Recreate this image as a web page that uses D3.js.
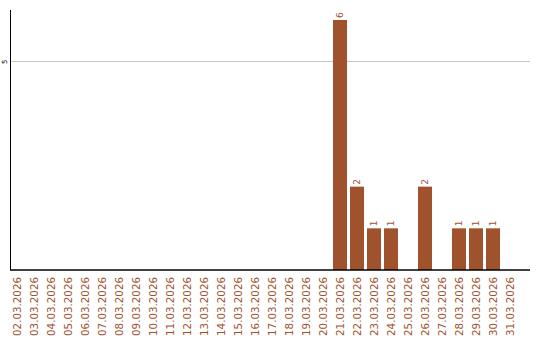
<!DOCTYPE html>
<html>
<head>
<meta charset="utf-8">
<script src="https://cdn.jsdelivr.net/npm/d3@7"></script>
<style>
  body { margin: 0; background: #fff; }
  svg { display: block; font-family: "DejaVu Sans", sans-serif; }
</style>
</head>
<body>
<div id="chart-area"></div>
<script>
const width = 540;
const height = 340;

const days = d3.range(2, 32).map((d) => `${String(d).padStart(2, '0')}.03.2026`);
const counts = [0, 0, 0, 0, 0, 0, 0, 0, 0, 0, 0, 0, 0, 0, 0, 0, 0, 0, 0, 6, 2, 1, 1, 0, 2, 0, 1, 1, 1, 0];
const yTicks = [5];

const color = '#a0522d';

const xScale = d3.scaleBand().domain(days).range([8.5, 518.5]).paddingInner(3 / 17).paddingOuter(1.5 / 17);
const yScale = d3.scaleLinear().domain([0, 6]).range([270, 20]);

const svg = d3.select('#chart-area').append('svg')
  .attr('width', width)
  .attr('height', height);

// grid
svg.append('g')
  .selectAll('line')
  .data(yTicks)
  .join('line')
  .attr('x1', 11)
  .attr('x2', 530)
  .attr('y1', (d) => Math.floor(yScale(d)) + 0.5)
  .attr('y2', (d) => Math.floor(yScale(d)) + 0.5)
  .attr('stroke', '#c8c8c8');

svg.append('g')
  .selectAll('text')
  .data(yTicks)
  .join('text')
  .attr('transform', (d) => `translate(7,${yScale(d)}) rotate(-90)`)
  .attr('text-anchor', 'middle')
  .attr('font-size', 7)
  .attr('fill', '#000')
  .text((d) => d);

// bars
const data = days.map((day, i) => ({ day, value: counts[i] }));
const bars = data.filter((d) => d.value > 0);

svg.append('g')
  .selectAll('rect')
  .data(bars)
  .join('rect')
  .attr('x', (d) => xScale(d.day))
  .attr('y', (d) => yScale(d.value))
  .attr('width', xScale.bandwidth())
  .attr('height', (d) => yScale(0) - yScale(d.value))
  .attr('fill', color);

svg.append('g')
  .selectAll('text')
  .data(bars)
  .join('text')
  .attr('transform', (d) => `translate(${xScale(d.day) + xScale.bandwidth() / 2 + 3},${yScale(d.value) - 2}) rotate(-90)`)
  .attr('font-size', 9)
  .attr('fill', color)
  .text((d) => d.value);

// axes lines
svg.append('line')
  .attr('x1', 10.5).attr('x2', 10.5)
  .attr('y1', 10).attr('y2', 270.5)
  .attr('stroke', '#000');
svg.append('line')
  .attr('x1', 10).attr('x2', 530)
  .attr('y1', 270).attr('y2', 270)
  .attr('stroke', '#000')
  .attr('stroke-width', 1.5);

// x labels
svg.append('g')
  .selectAll('text')
  .data(days)
  .join('text')
  .attr('transform', (d) => `translate(${xScale(d) + xScale.bandwidth() / 2 + 4},277) rotate(-90)`)
  .attr('text-anchor', 'end')
  .attr('font-size', 10.3)
  .attr('fill', color)
  .text((d) => d);
</script>
</body>
</html>
